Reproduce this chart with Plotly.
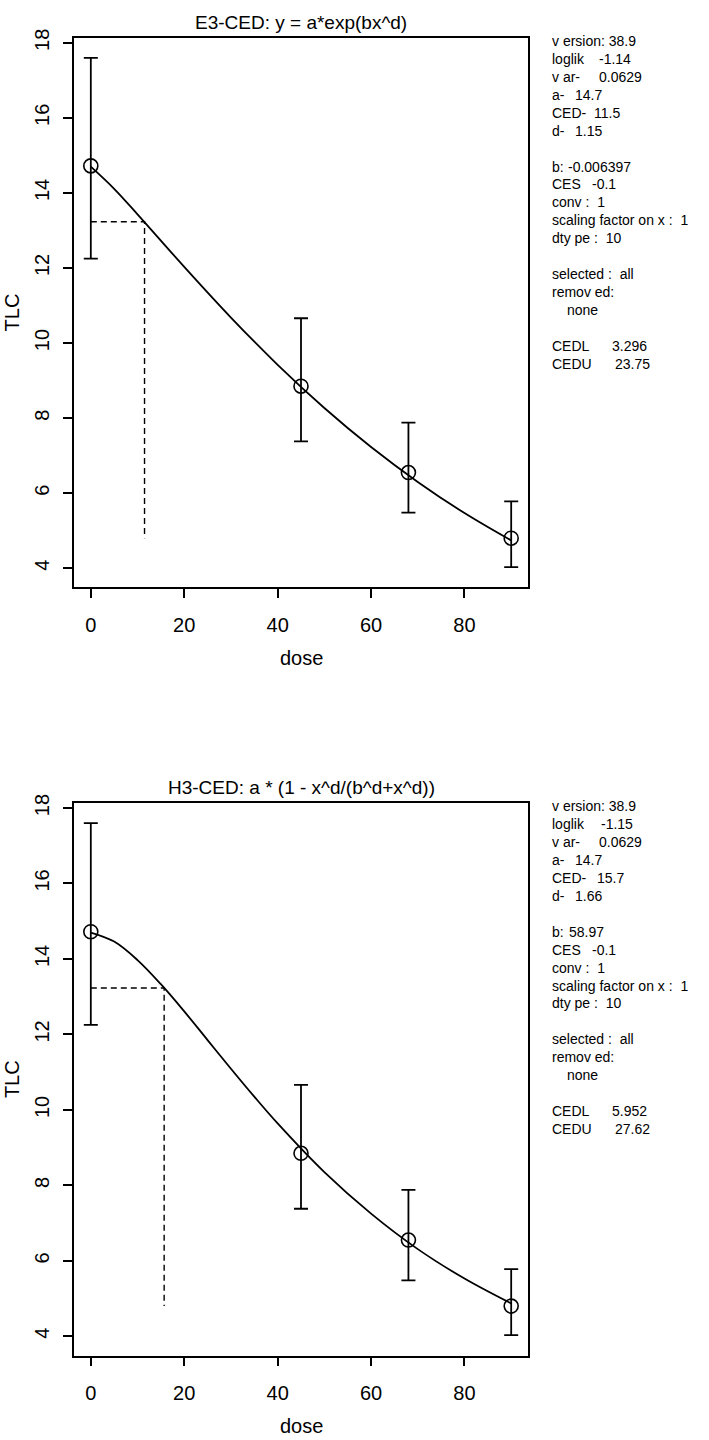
import plotly.graph_objects as go

# ---- data ----
dose = [0, 45, 68, 90]
tlc_mean = [14.72, 8.85, 6.55, 4.80]
tlc_upper = [17.60, 10.66, 7.88, 5.78]
tlc_lower = [12.25, 7.38, 5.48, 4.03]

e3_dose = [0, 5, 10, 20, 30, 40, 50, 60, 70, 80, 90]
e3_fit = [14.70, 14.11, 13.43, 12.03, 10.68, 9.42, 8.27, 7.23, 6.30, 5.47, 4.74]

h3_dose = [0, 5, 10, 15, 20, 25, 30, 35, 40, 50, 60, 70, 80, 90]
h3_fit = [14.70, 14.46, 13.97, 13.33, 12.61, 11.85, 11.09, 10.35, 9.64, 8.35, 7.25, 6.31, 5.53, 4.87]

ces_level = 13.23
e3_ced = 11.5
h3_ced = 15.7
ced_line_bottom = 4.8

x_ticks = [0, 20, 40, 60, 80]
y_ticks = [4, 6, 8, 10, 12, 14, 16, 18]

titles = ["E3-CED: y = a*exp(bx^d)", "H3-CED: a * (1 - x^d/(b^d+x^d))"]

e3_info = [
    [("v ersion: 38.9", 0)],
    [("loglik", 0), ("-1.14", 47)],
    [("v ar-", 0), ("0.0629", 47)],
    [("a-", 0), ("14.7", 23)],
    [("CED-", 0), ("11.5", 42)],
    [("d-", 0), ("1.15", 23)],
    [],
    [("b:", 0), ("-0.006397", 16)],
    [("CES", 0), ("-0.1", 40)],
    [("conv :  1", 0)],
    [("scaling factor on x :  1", 0)],
    [("dty pe :  10", 0)],
    [],
    [("selected :  all", 0)],
    [("remov ed:", 0)],
    [("none", 15)],
    [],
    [("CEDL", 0), ("3.296", 60)],
    [("CEDU", 0), ("23.75", 63)],
]
h3_info = [
    [("v ersion: 38.9", 0)],
    [("loglik", 0), ("-1.15", 49)],
    [("v ar-", 0), ("0.0629", 47)],
    [("a-", 0), ("14.7", 23)],
    [("CED-", 0), ("15.7", 45)],
    [("d-", 0), ("1.66", 23)],
    [],
    [("b:", 0), ("58.97", 17)],
    [("CES", 0), ("-0.1", 40)],
    [("conv :  1", 0)],
    [("scaling factor on x :  1", 0)],
    [("dty pe :  10", 0)],
    [],
    [("selected :  all", 0)],
    [("remov ed:", 0)],
    [("none", 15)],
    [],
    [("CEDL", 0), ("5.952", 60)],
    [("CEDU", 0), ("27.62", 63)],
]

# ---- layout geometry (pixels) ----
W, H = 709, 1440
BOX_L, BOX_R = 74, 528
PANELS = [(28.7, 582.0), (798.7, 1355.0)]
FONT = "Liberation Sans, Arial, sans-serif"


def px_x(x):
    return x / W


def px_y(y):
    return 1 - y / H


fig = go.Figure()
annotations = []

fits = [(e3_dose, e3_fit, e3_ced), (h3_dose, h3_fit, h3_ced)]
infos = [e3_info, h3_info]

for i, (top, bot) in enumerate(PANELS):
    xa = "x" if i == 0 else "x2"
    ya = "y" if i == 0 else "y2"
    fd, fv, ced = fits[i]

    # fitted curve
    fig.add_trace(go.Scatter(x=fd, y=fv, mode="lines", xaxis=xa, yaxis=ya,
                             line=dict(color="black", width=1.8, shape="spline"),
                             showlegend=False, hoverinfo="skip"))
    # CED dashed lines
    fig.add_trace(go.Scatter(x=[0, ced, ced], y=[ces_level, ces_level, ced_line_bottom],
                             mode="lines", xaxis=xa, yaxis=ya,
                             line=dict(color="black", width=1.4, dash="6px,4px"),
                             showlegend=False, hoverinfo="skip"))
    # data points with error bars
    fig.add_trace(go.Scatter(
        x=dose, y=tlc_mean, mode="markers", xaxis=xa, yaxis=ya,
        marker=dict(symbol="circle-open", size=14, color="black", line=dict(width=1.6, color="black")),
        error_y=dict(type="data", symmetric=False,
                     array=[u - m for u, m in zip(tlc_upper, tlc_mean)],
                     arrayminus=[m - l for m, l in zip(tlc_mean, tlc_lower)],
                     color="black", thickness=1.8, width=7),
        showlegend=False, hoverinfo="skip"))

    # title
    annotations.append(dict(text=titles[i], x=px_x((BOX_L + BOX_R) / 2), y=px_y(top - 15),
                            xref="paper", yref="paper", showarrow=False,
                            xanchor="center", yanchor="middle",
                            font=dict(family=FONT, size=19, color="black")))
    # axis titles
    annotations.append(dict(text="dose", x=px_x((BOX_L + BOX_R) / 2), y=px_y(bot + 71),
                            xref="paper", yref="paper", showarrow=False,
                            xanchor="center", yanchor="middle",
                            font=dict(family=FONT, size=20, color="black")))
    annotations.append(dict(text="TLC", x=px_x(12), y=px_y((top + bot) / 2),
                            xref="paper", yref="paper", showarrow=False, textangle=-90,
                            xanchor="center", yanchor="middle",
                            font=dict(family=FONT, size=20, color="black")))
    # info text block
    for j, line in enumerate(infos[i]):
        yy = top + 3.5 + j * 18.05
        for txt, dx in line:
            annotations.append(dict(text=txt.replace(" ", "\u00a0"), x=px_x(550 + dx), y=px_y(yy),
                                    xref="paper", yref="paper", showarrow=False,
                                    xanchor="left", yanchor="middle",
                                    font=dict(family=FONT, size=14, color="black")))

axis_common = dict(showgrid=False, zeroline=False, showline=True, mirror=True,
                   linecolor="black", linewidth=1.6, ticks="outside", ticklen=9,
                   tickwidth=1.6, tickcolor="black",
                   tickfont=dict(family=FONT, size=20, color="black"))

xdom = [px_x(BOX_L), px_x(BOX_R)]
layout_axes = {}
for i, (top, bot) in enumerate(PANELS):
    sfx = "" if i == 0 else "2"
    layout_axes["xaxis" + sfx] = dict(axis_common, domain=xdom, range=[-3.6, 93.6],
                                      tickvals=x_ticks, ticklabelstandoff=10,
                                      anchor="y" + sfx)
    layout_axes["yaxis" + sfx] = dict(axis_common, domain=[px_y(bot), px_y(top)],
                                      range=[3.49, 18.14], tickvals=y_ticks,
                                      tickangle=-90, ticklabelstandoff=6,
                                      anchor="x" + sfx)

fig.update_layout(width=W, height=H, margin=dict(l=0, r=0, t=0, b=0),
                  paper_bgcolor="white", plot_bgcolor="white",
                  annotations=annotations, **layout_axes)

fig.write_html("out.html", config={"displayModeBar": False},
               post_script="document.body.style.margin='0px';")
